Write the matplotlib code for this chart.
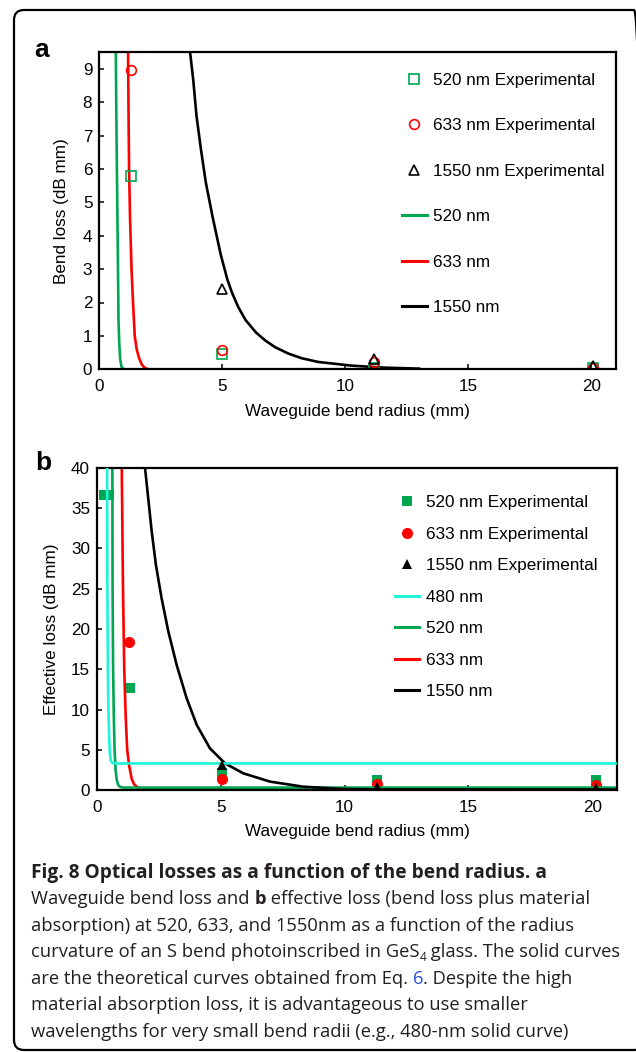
import matplotlib
matplotlib.use("Agg")
import matplotlib.pyplot as plt
from matplotlib.lines import Line2D
from matplotlib.patches import FancyBboxPatch

# ---- data ----
# panel a: bend loss (dB mm) vs bend radius (mm)
a_exp_x = [1.28, 5.0, 11.18, 20.05]
a_exp_520 = [5.8, 0.45, 0.05, 0.03]
a_exp_633 = [8.95, 0.58, 0.22, 0.05]
a_exp_1550_x = [5.0, 11.18, 20.05]
a_exp_1550 = [2.4, 0.3, 0.1]

a_fit_520_x = [0.67, 0.70, 0.73, 0.76, 0.78, 0.81, 0.85, 0.90, 1.0, 12.0]
a_fit_520_y = [9.5, 7.0, 5.0, 3.0, 1.5, 0.8, 0.3, 0.08, 0.0, 0.0]
a_fit_633_x = [1.17, 1.19, 1.21, 1.25, 1.31, 1.37, 1.44, 1.52, 1.61, 1.72, 1.85, 2.0, 12.0]
a_fit_633_y = [9.5, 7.5, 6.0, 4.5, 3.0, 2.0, 1.0, 0.6, 0.35, 0.15, 0.04, 0.0, 0.0]
a_fit_1550_x = [3.69, 3.82, 3.95, 4.13, 4.33, 4.60, 4.93, 5.2, 5.4, 5.65, 5.94, 6.37,
                6.75, 7.15, 7.69, 8.23, 8.9, 10.24, 11.59, 13.0]
a_fit_1550_y = [9.49, 8.65, 7.59, 6.59, 5.59, 4.58, 3.45, 2.7, 2.28, 1.86, 1.48, 1.1,
                0.86, 0.66, 0.47, 0.33, 0.22, 0.11, 0.05, 0.02]

# panel b: effective loss (dB mm) vs bend radius (mm)
b_exp_520_x = [0.3, 0.5, 1.35, 5.05, 11.3, 20.15]
b_exp_520 = [36.6, 36.6, 12.7, 2.1, 1.3, 1.2]
b_exp_x = [1.3, 5.05, 11.3, 20.15]
b_exp_633 = [18.4, 1.4, 0.7, 0.6]
b_exp_1550_x = [5.05, 11.3, 20.15]
b_exp_1550 = [3.1, 0.35, 0.2]

b_fit_480_x = [0.41, 0.42, 0.44, 0.46, 0.49, 0.52, 0.56, 0.62, 0.8, 21.0]
b_fit_480_y = [40, 25, 15, 10, 6.5, 4.5, 3.6, 3.35, 3.3, 3.3]
b_fit_520_x = [0.62, 0.63, 0.65, 0.68, 0.71, 0.75, 0.8, 0.86, 0.95, 1.1, 21.0]
b_fit_520_y = [40, 25, 15, 9, 5, 2.5, 1.2, 0.6, 0.35, 0.3, 0.3]
b_fit_633_x = [1.0, 1.05, 1.1, 1.16, 1.22, 1.3, 1.4, 1.5, 1.65, 1.9, 21.0]
b_fit_633_y = [40, 25, 15, 9, 5, 3, 1.4, 0.7, 0.3, 0.15, 0.15]
b_fit_1550_x = [1.94, 2.07, 2.21, 2.38, 2.61, 2.88, 3.22, 3.62, 4.03, 4.56, 5.17, 5.91,
                6.99, 8.33, 9.95, 11.5, 21.0]
b_fit_1550_y = [40, 36.2, 32.1, 27.95, 23.8, 19.7, 15.5, 11.4, 8.07, 5.18, 3.31, 2.07,
                1.04, 0.41, 0.12, 0.06, 0.05]

xticks = [0, 5, 10, 15, 20]
a_yticks = list(range(0, 10))
b_yticks = list(range(0, 45, 5))

GREEN = "#00a651"
RED = "#ff0000"
CYAN = "#1ef5d6"
BLACK = "#000000"

caption = [
    [("Fig. 8 Optical losses as a function of the bend radius. a", "bold", None)],
    [("Waveguide bend loss and ", "normal", None), ("b", "bold", None),
     (" effective loss (bend loss plus material", "normal", None)],
    [("absorption) at 520, 633, and 1550nm as a function of the radius", "normal", None)],
    [("curvature of an S bend photoinscribed in GeS", "normal", None), ("4", "normal", "sub"),
     (" glass. The solid curves", "normal", None)],
    [("are the theoretical curves obtained from Eq. ", "normal", None), ("6", "normal", "blue"),
     (". Despite the high", "normal", None)],
    [("material absorption loss, it is advantageous to use smaller", "normal", None)],
    [("wavelengths for very small bend radii (e.g., 480-nm solid curve)", "normal", None)],
]

W, H = 636, 1052
plt.rcParams["font.family"] = ["Liberation Sans", "DejaVu Sans"]
FS = 12.3


def style_axes(ax, yticks, ylim, ylabel, labelpad):
    ax.set_xlim(0, 21)
    ax.set_ylim(*ylim)
    ax.set_xticks(xticks)
    ax.set_yticks(yticks)
    ax.tick_params(direction="in", length=3.6, width=1.1, labelsize=FS)
    ax.tick_params(axis="x", pad=7)
    ax.tick_params(axis="y", pad=5)
    for s in ax.spines.values():
        s.set_linewidth(1.6)
    ax.set_xlabel("Waveguide bend radius (mm)", fontsize=FS, labelpad=7)
    ax.set_ylabel(ylabel, fontsize=FS, labelpad=labelpad)


fig = plt.figure(figsize=(W / 100, H / 100), dpi=100)

# ---- panel a ----
ax = fig.add_axes([99.3 / W, 1 - 369.3 / H, 516.7 / W, 317.3 / H])
ax.plot(a_fit_520_x, a_fit_520_y, c=GREEN, lw=1.9)
ax.plot(a_fit_633_x, a_fit_633_y, c=RED, lw=1.9)
ax.plot(a_fit_1550_x, a_fit_1550_y, c=BLACK, lw=1.9)
ax.plot(a_exp_x, a_exp_520, ls="none", marker="s", ms=6.5, mfc="none", mec=GREEN, mew=1.2)
ax.plot(a_exp_x, a_exp_633, ls="none", marker="o", ms=7, mfc="none", mec=RED, mew=1.2)
ax.plot(a_exp_1550_x, a_exp_1550, ls="none", marker="^", ms=7, mfc="none", mec=BLACK, mew=1.2)
style_axes(ax, a_yticks, (0, 9.5), "Bend loss (dB mm)", 10)

handles = [
    Line2D([], [], ls="none", marker="s", ms=6.5, mfc="none", mec=GREEN, mew=1.2),
    Line2D([], [], ls="none", marker="o", ms=7, mfc="none", mec=RED, mew=1.2),
    Line2D([], [], ls="none", marker="^", ms=7, mfc="none", mec=BLACK, mew=1.2),
    Line2D([], [], c=GREEN, lw=2.2),
    Line2D([], [], c=RED, lw=2.2),
    Line2D([], [], c=BLACK, lw=2.2),
]
labels = ["520 nm Experimental", "633 nm Experimental", "1550 nm Experimental",
          "520 nm", "633 nm", "1550 nm"]
ax.legend(handles, labels, loc="upper left", bbox_to_anchor=(402 / W, 1 - 73 / H),
          bbox_transform=fig.transFigure, frameon=False, fontsize=FS, borderpad=0,
          borderaxespad=0, handlelength=1.46, handletextpad=0.35, labelspacing=1.78)
fig.text(42 / W, 1 - 50 / H, "a", fontsize=19, fontweight="bold", ha="center", va="center")

# ---- panel b ----
bx = fig.add_axes([97 / W, 1 - 790 / H, 520 / W, 322 / H])
bx.plot(b_exp_520_x, b_exp_520, ls="none", marker="s", ms=7, c=GREEN, mew=0, zorder=2)
bx.plot(b_exp_x, b_exp_633, ls="none", marker="o", ms=8, c=RED, mew=0, zorder=2.1)
bx.plot(b_exp_1550_x, b_exp_1550, ls="none", marker="^", ms=7.5, c=BLACK, mew=0, zorder=3)
bx.plot(b_fit_520_x, b_fit_520_y, c=GREEN, lw=1.9, zorder=2.5)
bx.plot(b_fit_633_x, b_fit_633_y, c=RED, lw=1.9, zorder=2.4)
bx.plot(b_fit_1550_x, b_fit_1550_y, c=BLACK, lw=1.9, zorder=2.6)
bx.plot(b_fit_480_x, b_fit_480_y, c=CYAN, lw=1.9, zorder=2.7)
style_axes(bx, b_yticks, (0, 40), "Effective loss (dB mm)", 9)

handles = [
    Line2D([], [], ls="none", marker="s", ms=7, c=GREEN, mew=0),
    Line2D([], [], ls="none", marker="o", ms=8, c=RED, mew=0),
    Line2D([], [], ls="none", marker="^", ms=7.5, c=BLACK, mew=0),
    Line2D([], [], c=CYAN, lw=2.2),
    Line2D([], [], c=GREEN, lw=2.2),
    Line2D([], [], c=RED, lw=2.2),
    Line2D([], [], c=BLACK, lw=2.2),
]
labels = ["520 nm Experimental", "633 nm Experimental", "1550 nm Experimental",
          "480 nm", "520 nm", "633 nm", "1550 nm"]
bx.legend(handles, labels, loc="upper left", bbox_to_anchor=(395 / W, 1 - 495 / H),
          bbox_transform=fig.transFigure, frameon=False, fontsize=FS, borderpad=0,
          borderaxespad=0, handlelength=1.4, handletextpad=0.4, labelspacing=0.97)
fig.text(43 / W, 1 - 463 / H, "b", fontsize=19, fontweight="bold", ha="center", va="center")

# ---- caption ----
renderer = fig.canvas.get_renderer()
CFS = 13.2
BOLD_FS = 13.8
for i, pieces in enumerate(caption):
    x = 31.0
    base = 877.7 + i * 26.55
    for text, weight, kind in pieces:
        size = BOLD_FS if i == 0 else CFS
        y = base
        color = "#231f20"
        if kind == "sub":
            size = CFS * 0.65
            y = base + 3.5
        elif kind == "blue":
            color = "#2b50d8"
        t = fig.text(x / W, 1 - y / H, text, fontsize=size, fontweight=weight, color=color,
                     family=["Open Sans", "DejaVu Sans"], ha="left", va="baseline")
        x += t.get_window_extent(renderer).width

# ---- rounded frame ----
frame = FancyBboxPatch((0.14, 0.02), 6.30, 10.40, boxstyle="round,pad=0,rounding_size=0.1",
                       transform=fig.dpi_scale_trans, fc="none", ec="black", lw=1.6)
fig.patches.append(frame)

fig.savefig("out.png", dpi=100)
